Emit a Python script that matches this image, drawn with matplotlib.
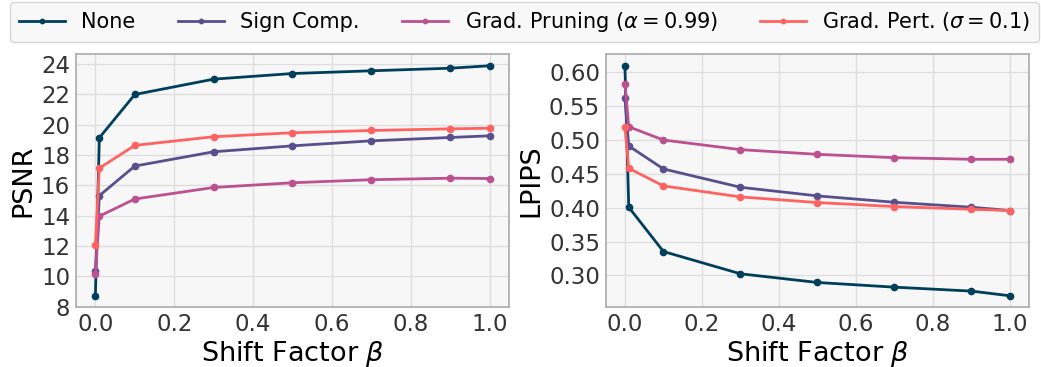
import matplotlib
matplotlib.use("Agg")
import matplotlib.pyplot as plt

beta = [0.0, 0.01, 0.1, 0.3, 0.5, 0.7, 0.9, 1.0]
series_names = ["None", "Sign Comp.", r"Grad. Pruning ($\alpha=0.99$)", r"Grad. Pert. ($\sigma=0.1$)"]
colors = ["#003f5c", "#58508d", "#bc5090", "#ff6361"]

psnr_none = [8.73, 19.13, 21.98, 22.99, 23.36, 23.54, 23.71, 23.87]
psnr_sign = [10.38, 15.32, 17.27, 18.21, 18.60, 18.93, 19.15, 19.26]
psnr_prune = [10.14, 13.97, 15.10, 15.86, 16.17, 16.37, 16.47, 16.45]
psnr_pert = [12.10, 17.13, 18.63, 19.20, 19.46, 19.61, 19.72, 19.76]

lpips_none = [0.6088, 0.4005, 0.3353, 0.3025, 0.2897, 0.2828, 0.2770, 0.2701]
lpips_sign = [0.5613, 0.4907, 0.4569, 0.4299, 0.4172, 0.4078, 0.4005, 0.3956]
lpips_prune = [0.5824, 0.5190, 0.4995, 0.4853, 0.4784, 0.4735, 0.4711, 0.4711]
lpips_pert = [0.5190, 0.4578, 0.4319, 0.4157, 0.4074, 0.4015, 0.3975, 0.3956]

psnr = [psnr_none, psnr_sign, psnr_prune, psnr_pert]
lpips = [lpips_none, lpips_sign, lpips_prune, lpips_pert]

fig = plt.figure(figsize=(10.41, 3.67), dpi=100)
ax1 = fig.add_axes([0.0727, 0.1627, 0.4165, 0.6894])
ax2 = fig.add_axes([0.5818, 0.1627, 0.4069, 0.6894])

for ax, data, ylabel in [(ax1, psnr, "PSNR"), (ax2, lpips, "LPIPS")]:
    ax.set_facecolor("#f7f7f7")
    ax.grid(True, color="#dedede", linewidth=1.0)
    ax.set_axisbelow(True)
    for name, vals, c in zip(series_names, data, colors):
        ax.plot(beta, vals, color=c, marker="o", markersize=4.5, linewidth=2, label=name)
    ax.set_xlabel(r"Shift Factor $\beta$", fontsize=19.5, labelpad=2)
    ax.set_ylabel(ylabel, fontsize=19.5, labelpad=3)
    ax.tick_params(axis="both", labelsize=16.5, colors="#333333", length=0, pad=4)
    for s in ax.spines.values():
        s.set_color("#aaaaaa")
        s.set_linewidth(1.2)
    ax.set_xticks([0.0, 0.2, 0.4, 0.6, 0.8, 1.0])

ax1.set_yticks(range(8, 25, 2))
ax2.set_yticks([0.30, 0.35, 0.40, 0.45, 0.50, 0.55, 0.60])
ax2.yaxis.set_major_formatter(matplotlib.ticker.FormatStrFormatter("%.2f"))

handles, labels = ax1.get_legend_handles_labels()
leg = fig.legend(handles, labels, loc="lower left", bbox_to_anchor=(0.01, 0.885, 0.988, 0.11),
                 mode="expand", ncol=4, fontsize=15, frameon=True, fancybox=True,
                 handlelength=2.2, borderaxespad=0, markerscale=0.7)
leg.get_frame().set_edgecolor("#cccccc")
leg.get_frame().set_facecolor("#f7f7f7")

fig.savefig("out.png", dpi=100)
